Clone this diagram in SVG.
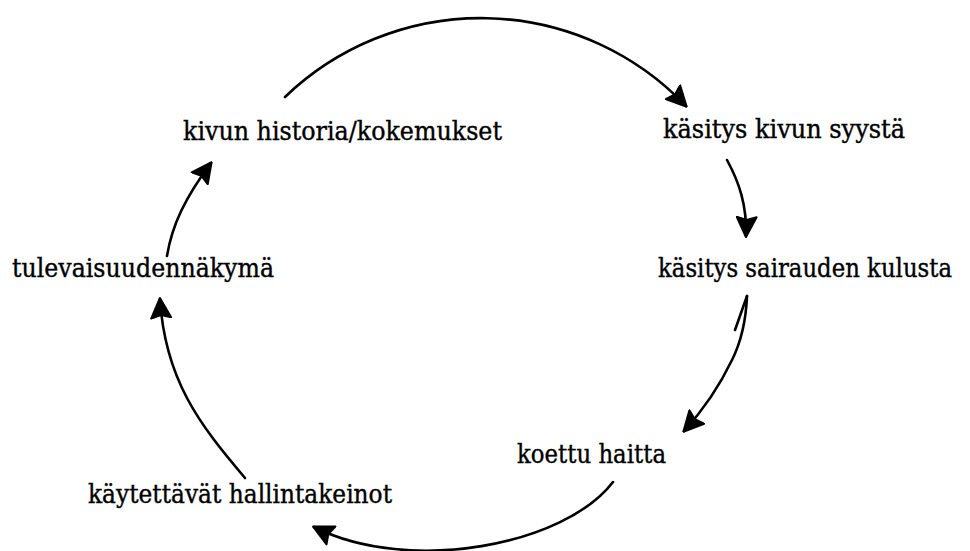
<svg xmlns="http://www.w3.org/2000/svg" width="970" height="551" viewBox="0 0 970 551">
  <style>
    .lbl { font-family: "DejaVu Serif", "Liberation Serif", serif; font-size: 25.5px; fill: #000; stroke: #000; stroke-width: 0.4px; }
    .conn { fill: none; stroke: #000; stroke-width: 2.6; stroke-linecap: round; }
  </style>
  <defs>
    <marker id="arr" viewBox="0 0 22 22" markerUnits="userSpaceOnUse" markerWidth="22" markerHeight="22" refX="20" refY="11" orient="auto">
      <path d="M1,1 L21,11 L1,21 L4,11 z" fill="#000" stroke="#000" stroke-width="2" stroke-linejoin="round"/>
    </marker>
  </defs>
  <rect width="970" height="551" fill="#fff"/>
  <g id="n1"><text class="lbl" x="183" y="140" textLength="319" lengthAdjust="spacingAndGlyphs">kivun historia/kokemukset</text></g>
  <g id="n2"><text class="lbl" x="663" y="138" textLength="242" lengthAdjust="spacingAndGlyphs">käsitys kivun syystä</text></g>
  <g id="n3"><text class="lbl" x="658" y="277" font-size="23" textLength="294" lengthAdjust="spacingAndGlyphs">käsitys sairauden kulusta</text></g>
  <g id="n4"><text class="lbl" x="517" y="463" textLength="149" lengthAdjust="spacingAndGlyphs">koettu haitta</text></g>
  <g id="n5"><text class="lbl" x="88" y="503" textLength="304" lengthAdjust="spacingAndGlyphs">käytettävät hallintakeinot</text></g>
  <g id="n6"><text class="lbl" x="12" y="277" textLength="262" lengthAdjust="spacingAndGlyphs">tulevaisuudennäkymä</text></g>
  <g id="connectors">
    <path class="conn" d="M285,97 A283,283 0 0 1 686,106" marker-end="url(#arr)"/>
    <path class="conn" d="M727,160 C739,182 747,205 746,236" marker-end="url(#arr)"/>
    <path class="conn" d="M747,296 L735,330"/>
    <path class="conn" d="M747,296 C746,320 742,340 732,360 C720,385 705,408 684,431" marker-end="url(#arr)"/>
    <path class="conn" d="M613,482 C565,545 410,575 314,527" marker-end="url(#arr)"/>
    <path class="conn" d="M245,478 C200,425 165,380 160,299" marker-end="url(#arr)"/>
    <path class="conn" d="M167,256 C172,225 185,198 211,163" marker-end="url(#arr)"/>
  </g>
</svg>
